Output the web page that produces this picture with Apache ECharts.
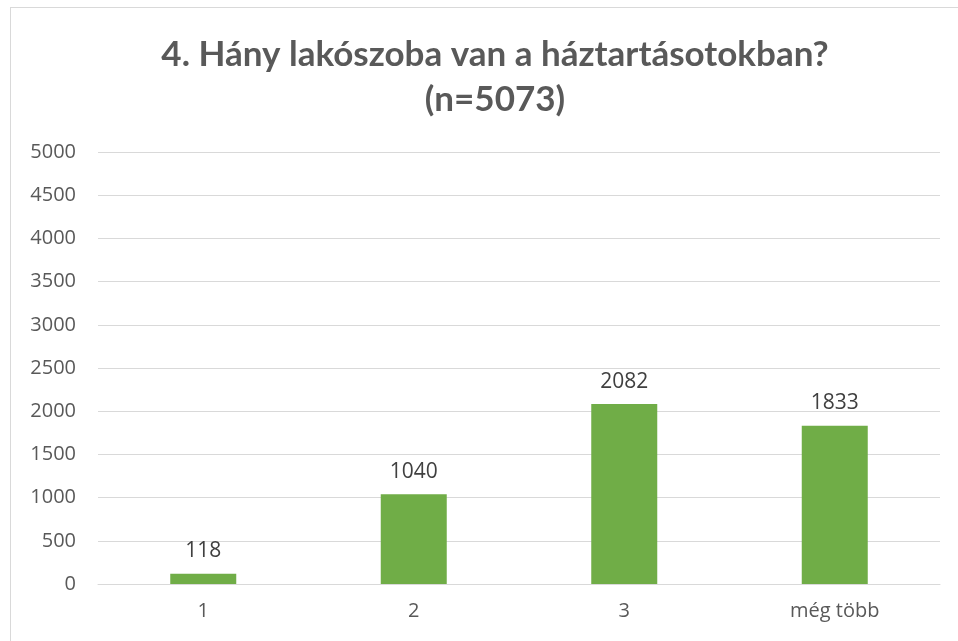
<!DOCTYPE html>
<html>
<head>
<meta charset="utf-8">
<script src="https://cdn.jsdelivr.net/npm/echarts@6/dist/echarts.min.js"></script>
<style>
    html, body { margin: 0; padding: 0; background: #fff; }
    #frame { position: absolute; left: 10px; top: 7px; width: 960px; height: 650px; border: 1px solid #d9d9d9; }
    #main { position: absolute; left: 0; top: 0; width: 958px; height: 641px; }
</style>
</head>
<body>
<div id="frame"></div>
<div id="main"></div>
<script>
// adatok
var categories = ['1', '2', '3', 'még több'];
var values = [118, 1040, 2082, 1833];
var yTicks = [0, 500, 1000, 1500, 2000, 2500, 3000, 3500, 4000, 4500, 5000];

var myChart = echarts.init(document.getElementById('main'));

var option = {
    animation: false,
    title: {
        text: '4. Hány lakószoba van a háztartásotokban?\n(n=5073)',
        left: 490,
        top: 27,
        textAlign: 'center',
        textStyle: {
            fontFamily: 'Lato',
            fontWeight: 'bold',
            fontSize: 35,
            lineHeight: 45,
            color: '#595959'
        }
    },
    grid: {
        left: 98,
        right: 18,
        top: 152,
        bottom: 57,
        containLabel: false
    },
    xAxis: {
        type: 'category',
        data: categories,
        axisLine: { lineStyle: { color: '#d9d9d9' } },
        axisTick: { show: false },
        axisLabel: {
            margin: 17,
            fontFamily: 'Open Sans',
            fontSize: 20,
            color: '#595959'
        }
    },
    yAxis: {
        type: 'value',
        min: yTicks[0],
        max: yTicks[yTicks.length - 1],
        interval: 500,
        axisLine: { show: false },
        axisTick: { show: false },
        splitLine: { lineStyle: { color: '#d9d9d9', width: 1 } },
        axisLabel: {
            margin: 22,
            fontFamily: 'Open Sans',
            fontSize: 20,
            color: '#595959',
            formatter: function (v) { return String(v); }
        }
    },
    series: [
        {
            type: 'bar',
            data: values,
            barWidth: 66,
            itemStyle: { color: '#70ad47' },
            label: {
                show: true,
                position: 'top',
                distance: 12,
                fontFamily: 'Open Sans',
                fontSize: 21,
                color: '#404040'
            }
        }
    ]
};

myChart.setOption(option);
</script>
</body>
</html>
